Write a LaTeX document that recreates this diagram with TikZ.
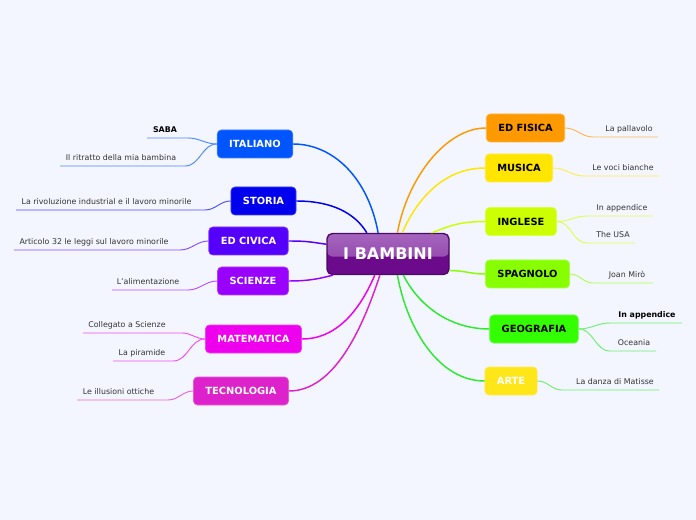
\documentclass[tikz,border=0pt]{standalone}
\usepackage{fontspec}
\setmainfont{DejaVu Sans}
\usetikzlibrary{positioning, calc}

\definecolor{bg}{HTML}{F3F6FE}
\definecolor{hubtop}{HTML}{A564BD}
\definecolor{hubmid}{HTML}{8B3CA7}
\definecolor{hubbot}{HTML}{6B0A8B}
\definecolor{hubedge}{HTML}{4B0866}
\definecolor{leaftext}{HTML}{333333}
\definecolor{italiano}{HTML}{0055FF}
\definecolor{storia}{HTML}{0000EE}
\definecolor{edcivica}{HTML}{5500FF}
\definecolor{scienze}{HTML}{9900FF}
\definecolor{matematica}{HTML}{EE00EE}
\definecolor{tecnologia}{HTML}{DD22CC}
\definecolor{edfisica}{HTML}{FF9900}
\definecolor{musica}{HTML}{FFE500}
\definecolor{inglese}{HTML}{CCFF00}
\definecolor{spagnolo}{HTML}{88FF00}
\definecolor{geografia}{HTML}{33FF00}
\definecolor{arte}{HTML}{FFE619}
\definecolor{artelink}{HTML}{2EEA2E}

\begin{document}
\begin{tikzpicture}[
    x=0.75pt, y=-0.75pt,
    every node/.style={font=\fontsize{5.9}{7}\selectfont},
    hub/.style={rounded corners=4pt, draw=hubedge, line width=1pt, fill=hubbot,
        text=white, font=\fontsize{12}{14}\bfseries\selectfont,
        minimum width=91.5pt, minimum height=30.75pt,
        path picture={\shade[top color=hubtop, bottom color=hubmid]
            (path picture bounding box.north west) rectangle ([yshift=-2pt]path picture bounding box.east);}},
    branch/.style={rounded corners=3pt, minimum height=21pt, inner xsep=9pt,
        line width=0.5pt, font=\fontsize{7.4}{9}\bfseries\selectfont},
    leaf/.style={text=leaftext, inner sep=1pt},
    link/.style={line width=1.1pt},
    twig/.style={line width=0.7pt}
]

% Background
\fill[bg] (0,0) rectangle (696,520);
\useasboundingbox (0,0) rectangle (696,520);

% ============ CENTRAL TOPIC ============
\node[hub] (hub) at (388,254) {I BAMBINI};

% ============ MAIN BRANCHES ============
\foreach \bname/\tcol/\x/\y/\txt in {
    italiano/white/255/144/ITALIANO,
    storia/white/263.5/201/STORIA,
    edcivica/white/248.5/241/ED CIVICA,
    scienze/white/253/281/SCIENZE,
    matematica/white/253.5/339/MATEMATICA,
    tecnologia/white/241/391/TECNOLOGIA,
    edfisica/black/525.5/128/ED FISICA,
    musica/black/519/168/MUSICA,
    inglese/black/521/221.5/INGLESE,
    spagnolo/black/527.5/274/SPAGNOLO,
    geografia/black/534/329/GEOGRAFIA,
    arte/white/511/381/ARTE} {
    \node[branch, fill=\bname, draw=\bname!75!white, text=\tcol] (\bname) at (\x,\y) {\txt};
}

% Links from the central topic
\foreach \bname/\col/\anc/\ang/\ca/\cbx/\cby in {
    italiano/italiano/east/115/40/-10/-55,
    storia/storia/east/135/35/-12/-20,
    edcivica/edcivica/east/171/20/-15/-2,
    scienze/scienze/east/201/22/-12/3,
    matematica/matematica/east/238/35/-15/35,
    tecnologia/tecnologia/east/249/45/-18/55,
    edfisica/edfisica/west/66/-40/10/-55,
    musica/musica/west/56/-40/15/-35,
    inglese/inglese/west/26/-30/15/-5,
    spagnolo/spagnolo/west/345/-15/15/0,
    geografia/artelink/west/306/-40/15/30,
    arte/artelink/west/294/-45/10/55} {
    \draw[link, \col] (\bname.\anc) .. controls +(\ca,0) and +(\cbx,\cby) .. (hub.\ang);
}

% ============ LEAVES (LEFT SIDE) ============
\foreach \leafname/\parent/\col/\tx/\ty/\xa/\xb/\txt in {
    saba/italiano/italiano/165/130/147/188/\textbf{\color{black}SABA},
    ritratto/italiano/italiano/121/158/60/185/Il ritratto della mia bambina,
    rivoluzione/storia/storia/106.5/202/16/205/La rivoluzione industrial e il lavoro minorile,
    articolo/edcivica/edcivica/94/242/14/180/Articolo 32 le leggi sul lavoro minorile,
    alimentazione/scienze/scienze/148/282/112/188/L'alimentazione,
    collegato/matematica/matematica/127/325/83/182/Collegato a Scienze,
    piramide/matematica/matematica/142/353/113/173/La piramide,
    illusioni/tecnologia/tecnologia/118.5/392/77/168/Le illusioni ottiche} {
    \node[leaf] (\leafname) at (\tx,\ty) {\txt};
    \coordinate (\leafname-in) at (\xb,\ty+8);
    \coordinate (\leafname-out) at (\xa,\ty+8);
    \draw[twig, \col!70!white] (\parent.west) to[out=180, in=0] (\leafname-in) -- (\leafname-out);
}

% ============ LEAVES (RIGHT SIDE) ============
\foreach \leafname/\parent/\col/\tx/\ty/\xa/\xb/\txt in {
    pallavolo/edfisica/edfisica/629/129/593/658/La pallavolo,
    voci/musica/musica/623/168/584/659/Le voci bianche,
    appendiceA/inglese/inglese/622/208/587/653/In appendice,
    usa/inglese/inglese/613/235/587/635/The USA,
    miro/spagnolo/spagnolo/627/275/593/653/Joan Mirò,
    appendiceB/geografia/artelink/647/315/610/682/\textbf{\color{black}In appendice},
    oceania/geografia/artelink/634/343/610/656/Oceania,
    danza/arte/artelink/615/382/562/659/La danza di Matisse} {
    \node[leaf] (\leafname) at (\tx,\ty) {\txt};
    \coordinate (\leafname-in) at (\xa,\ty+8);
    \coordinate (\leafname-out) at (\xb,\ty+8);
    \draw[twig, \col!70!white] (\parent.east) to[out=0, in=180] (\leafname-in) -- (\leafname-out);
}

\end{tikzpicture}
\end{document}
